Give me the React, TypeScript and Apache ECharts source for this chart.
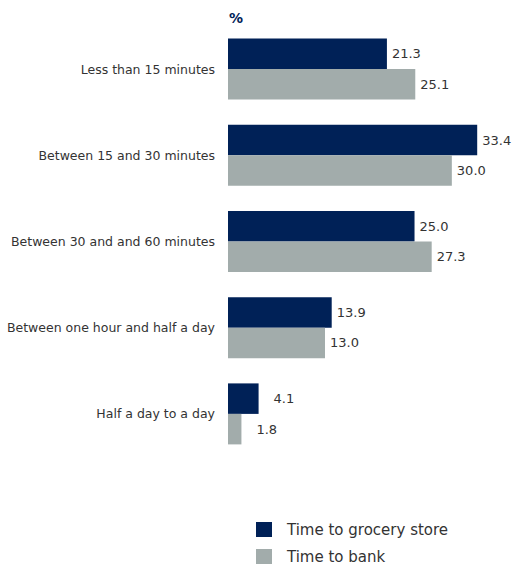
import React, { useEffect, useRef } from "react";
import * as echarts from "echarts";

const categories = [
  "Less than 15 minutes",
  "Between 15 and 30 minutes",
  "Between 30 and and 60 minutes",
  "Between one hour and half a day",
  "Half a day to a day",
];
const groceryStore = [21.3, 33.4, 25.0, 13.9, 4.1];
const bank = [25.1, 30.0, 27.3, 13.0, 1.8];
const seriesNames = ["Time to grocery store", "Time to bank"];
const unitLabel = "%";

const FONT = "'DejaVu Sans', sans-serif";
const NAVY = "#002157";
const GREY = "#a2acab";

// short bars push their value label a little further out
const withLabels = (values: number[]) =>
  values.map((v) => ({
    value: v,
    label: { distance: v < 5 ? 15 : 5 },
  }));

export default function App() {
  const ref = useRef<HTMLDivElement>(null);

  useEffect(() => {
    document.body.style.margin = "0";
    if (!ref.current) return;
    const chart = echarts.init(ref.current, undefined, { renderer: "svg" });
    const valueLabel = {
      show: true,
      position: "right" as const,
      color: "#333",
      fontFamily: FONT,
      fontSize: 13,
      formatter: (p: any) => Number(p.value).toFixed(1),
    };
    chart.setOption({
      animation: false,
      backgroundColor: "#fff",
      grid: {
        left: 228,
        top: 26,
        height: 431,
        right: 21.4,
        containLabel: false,
        outerBoundsMode: "none",
      },
      xAxis: { type: "value", min: 0, max: 36, show: false },
      yAxis: {
        type: "category",
        data: categories,
        inverse: true,
        axisLine: { show: false },
        axisTick: { show: false },
        axisLabel: {
          margin: 13,
          color: "#333",
          fontFamily: FONT,
          fontSize: 12.5,
        },
      },
      legend: {
        orient: "vertical",
        left: 256,
        top: 522,
        height: 60,
        padding: 0,
        itemWidth: 16,
        itemHeight: 15,
        itemGap: 12,
        icon: "rect",
        textStyle: { color: "#333", fontFamily: FONT, fontSize: 15, padding: [0, 0, 0, 10] },
        data: seriesNames,
      },
      graphic: [
        {
          type: "text",
          left: 229,
          top: 11,
          style: {
            text: unitLabel,
            fill: NAVY,
            font: `bold 14px ${FONT}`,
          },
        },
      ],
      series: [
        {
          name: seriesNames[0],
          type: "bar",
          data: withLabels(groceryStore),
          barWidth: 30.5,
          barGap: "0%",
          itemStyle: { color: NAVY },
          label: valueLabel,
        },
        {
          name: seriesNames[1],
          type: "bar",
          data: withLabels(bank),
          barWidth: 30.5,
          barGap: "0%",
          itemStyle: { color: GREY },
          label: valueLabel,
        },
      ],
    });
    return () => chart.dispose();
  }, []);

  return <div ref={ref} style={{ width: 518, height: 569 }} />;
}
